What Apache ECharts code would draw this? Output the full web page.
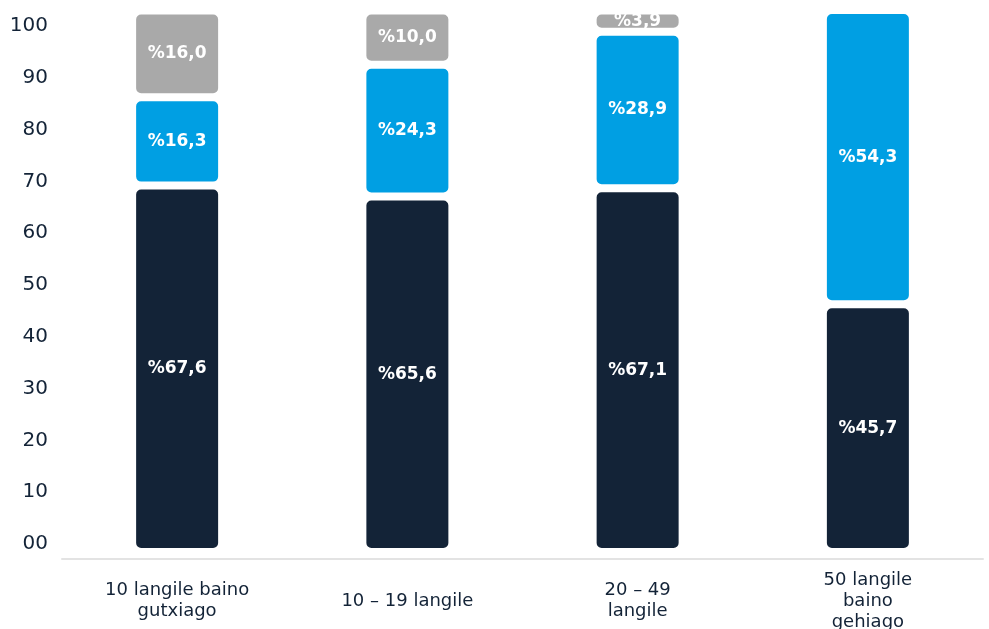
<!DOCTYPE html>
<html>
<head>
<meta charset="utf-8">
<script src="https://cdn.jsdelivr.net/npm/echarts@6/dist/echarts.min.js"></script>
<style>html,body{margin:0;padding:0;background:#fff}#c{width:989px;height:629px}</style>
</head>
<body>
<div id="c"></div>
<script>
const categories = ['10 langile baino\ngutxiago', '10 – 19 langile', '20 – 49\nlangile', '50 langile\nbaino\ngehiago'];
const darkValues = [67.6, 65.6, 67.1, 45.7];
const blueValues = [16.3, 24.3, 28.9, 54.3];
const grayValues = [16.0, 10.0, 3.9, null];
const yMin = 0, yMax = 100, yStep = 10;

const NAVY = '#132337', BLUE = '#009fe3', GRAY = '#a9a9a9';
const FONT = 'DejaVu Sans';

function seg(name, values, color) {
  return {
    name, type: 'bar', stack: 'total', data: values,
    xAxisIndex: 0, yAxisIndex: 0,
    barWidth: 90,
    itemStyle: { color, borderColor: '#ffffff', borderWidth: 4, borderRadius: 7 },
    label: {
      show: true, position: 'inside', color: '#ffffff',
      fontFamily: FONT, fontWeight: 'bold', fontSize: 17,
      formatter: p => '%' + p.value.toFixed(1).replace('.', ',')
    }
  };
}

const chart = echarts.init(document.getElementById('c'), null, { renderer: 'canvas' });
chart.setOption({
  animation: false,
  backgroundColor: '#ffffff',
  grid: [
    { left: 62, right: 6, top: 10, bottom: 77, containLabel: false, outerBoundsMode: 'none' },
    { left: 62, right: 6, top: 26, bottom: 85, containLabel: false, outerBoundsMode: 'none' }
  ],
  xAxis: [
    {
      type: 'category', gridIndex: 0, data: categories, offset: 7, position: 'bottom',
      axisLine: { onZero: false, lineStyle: { color: '#e3e3e3', width: 2 } },
      axisTick: { show: false },
      axisLabel: {
        color: NAVY, fontFamily: FONT, fontSize: 18, lineHeight: 21,
        verticalAlign: 'middle', margin: 42, interval: 0
      }
    },
    { type: 'category', gridIndex: 1, data: categories, show: false }
  ],
  yAxis: [
    { type: 'value', gridIndex: 0, min: yMin, max: yMax, show: false },
    {
      type: 'value', gridIndex: 1, min: yMin, max: yMax, interval: yStep,
      axisLine: { show: false }, axisTick: { show: false }, splitLine: { show: false },
      axisLabel: {
        color: NAVY, fontFamily: FONT, fontSize: 20, margin: 14,
        formatter: v => v === 0 ? '00' : String(v)
      }
    }
  ],
  series: [
    seg('dark', darkValues, NAVY),
    seg('blue', blueValues, BLUE),
    seg('gray', grayValues, GRAY)
  ]
});
</script>
</body>
</html>
